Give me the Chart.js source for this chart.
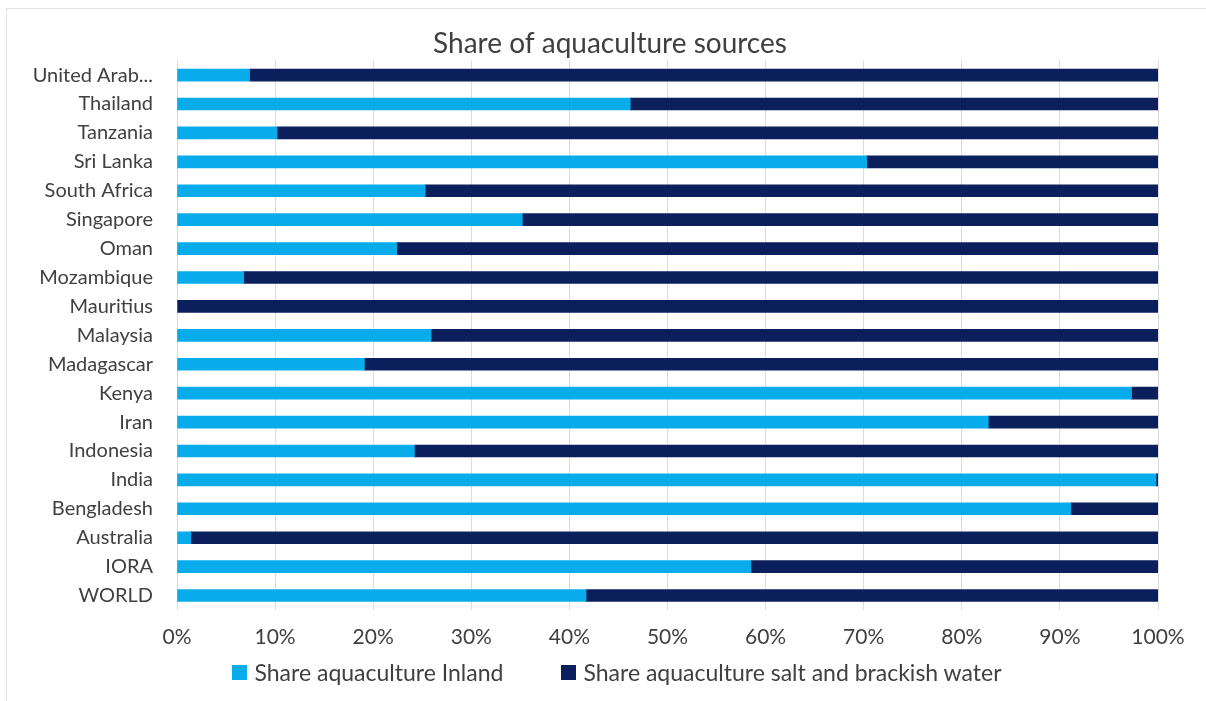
<!DOCTYPE html>
<html>
<head>
<title>Share of aquaculture sources</title>
<script src="https://cdn.jsdelivr.net/npm/chart.js@4.4.1/dist/chart.umd.min.js"></script>
<style>
body { margin: 0; background: #ffffff; }
#wrap { position: relative; width: 1206px; height: 701px; font-family: Lato, "Open Sans", sans-serif; }
#frame {
  position: absolute; left: 6px; top: 8px; width: 1200px; height: 693px;
  border-left: 1px solid #e3e3e3; border-top: 1px solid #e3e3e3;
  box-sizing: border-box;
}
#c1 { position: absolute; left: 0; top: 0; }
#legend {
  position: absolute; left: 0; width: 1234px; top: 658px;
  display: flex; justify-content: center; gap: 58px;
  font-size: 23px; color: #404040; line-height: 28px;
}
#legend span.item { display: flex; align-items: center; }
#legend i { display: inline-block; width: 15px; height: 15px; margin-right: 7px; }
</style>
</head>
<body>
<div id="wrap">
  <div id="frame"></div>
  <canvas id="c1" width="1206" height="701"></canvas>
  <div id="legend"></div>
</div>
<script>
var countries = ['United Arab...', 'Thailand', 'Tanzania', 'Sri Lanka', 'South Africa', 'Singapore',
  'Oman', 'Mozambique', 'Mauritius', 'Malaysia', 'Madagascar', 'Kenya', 'Iran', 'Indonesia',
  'India', 'Bengladesh', 'Australia', 'IORA', 'WORLD'];
// percent of production, inland vs salt/brackish
var inland = [7.4, 46.2, 10.2, 70.3, 25.3, 35.2, 22.4, 6.8, 0, 25.9, 19.1, 97.3, 82.7, 24.2, 99.8, 91.1, 1.4, 58.5, 41.7];
var saltBrackish = [92.6, 53.8, 89.8, 29.7, 74.7, 64.8, 77.6, 93.2, 100, 74.1, 80.9, 2.7, 17.3, 75.8, 0.2, 8.9, 98.6, 41.5, 58.3];
var xTicks = [0, 10, 20, 30, 40, 50, 60, 70, 80, 90, 100];

var lightBlue = '#08ACEB';
var navy = '#0B1F5C';
var txt = '#404040';
var font = 'Lato, "Open Sans", sans-serif';

var ctx = document.getElementById('c1').getContext('2d');
var chart = new Chart(ctx, {
  type: 'bar',
  data: {
    labels: countries,
    datasets: [
      { label: 'Share aquaculture Inland', data: inland, backgroundColor: lightBlue, barThickness: 12 },
      { label: 'Share aquaculture salt and brackish water', data: saltBrackish, backgroundColor: navy, barThickness: 12 }
    ]
  },
  options: {
    indexAxis: 'y',
    responsive: false,
    animation: false,
    layout: { padding: { top: 18, right: 0, bottom: 51, left: 14 } },
    plugins: {
      title: {
        display: true,
        text: 'Share of aquaculture sources',
        color: txt,
        font: { family: font, size: 28, weight: 'normal' },
        padding: { top: 9, bottom: 0 }
      },
      // legend is built as html below, spaced wider than chart.js allows
      legend: { display: false },
      tooltip: { enabled: false }
    },
    scales: {
      x: {
        stacked: true,
        min: 0,
        max: 100,
        afterBuildTicks: function (s) { s.ticks = xTicks.map(function (v) { return { value: v }; }); },
        afterFit: function (s) { s.height = 40; },
        ticks: {
          color: txt,
          font: { family: font, size: 21 },
          padding: 15,
          maxRotation: 0,
          callback: function (v) { return v + '%'; }
        },
        grid: { color: '#dcdcdc', drawTicks: false },
        border: { display: false }
      },
      y: {
        stacked: true,
        afterFit: function (s) { s.width = 163; },
        ticks: {
          color: txt,
          font: { family: font, size: 20 },
          padding: 16
        },
        grid: { display: false },
        border: { display: false }
      },
      // empty right margin so the plot stops at 100% where the frame leaves room
      yRight: {
        position: 'right',
        display: true,
        afterFit: function (s) { s.width = 48; },
        ticks: { display: false },
        grid: { display: false },
        border: { display: false }
      }
    }
  }
});

var legendEl = document.getElementById('legend');
chart.data.datasets.forEach(function (ds) {
  var item = document.createElement('span');
  item.className = 'item';
  var sw = document.createElement('i');
  sw.style.background = ds.backgroundColor;
  item.appendChild(sw);
  item.appendChild(document.createTextNode(ds.label));
  legendEl.appendChild(item);
});
</script>
</body>
</html>
